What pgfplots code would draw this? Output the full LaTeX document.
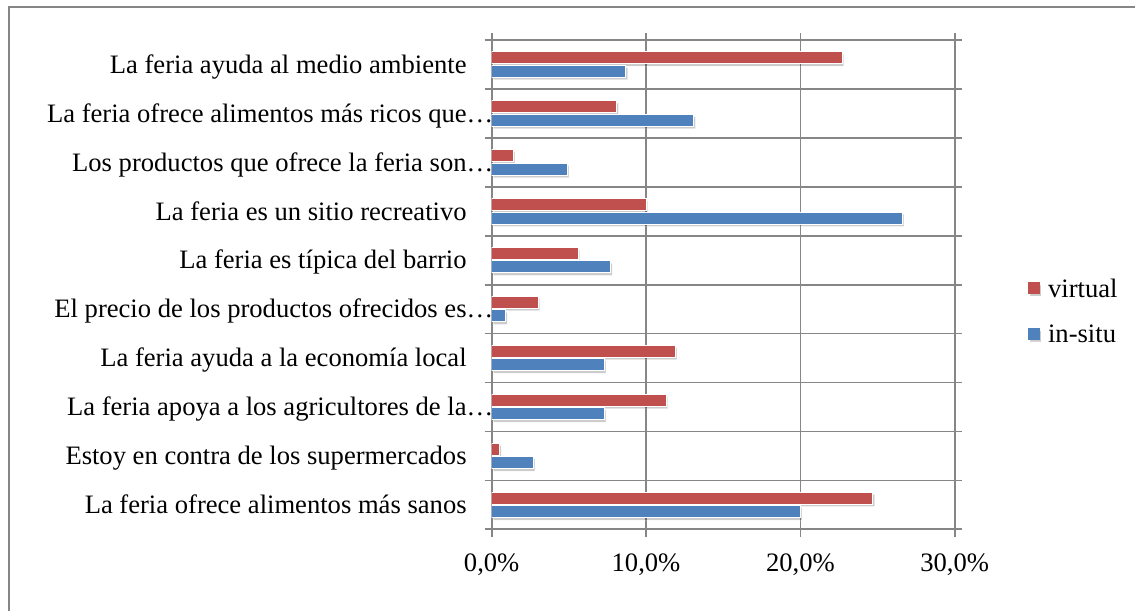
\documentclass[border=0pt]{standalone}
\usepackage{fontspec}
\setmainfont{Liberation Serif}
\usepackage{pgfplots}
\pgfplotsset{compat=1.18}
\usetikzlibrary{shadows}
\definecolor{redbar}{RGB}{192,80,77}
\definecolor{bluebar}{RGB}{79,129,189}
\definecolor{gridgray}{RGB}{134,134,134}
\newcommand{\ellip}{\rlap{…}}
\begin{document}
\fontsize{13.3pt}{16pt}\selectfont
\begin{tikzpicture}
\path[use as bounding box] (0,0) rectangle (567.5pt,305.5pt);
\draw[gridgray, line width=1pt] (4.25pt,0pt) -- (4.25pt,301.75pt) -- (567.5pt,301.75pt);
\begin{axis}[
  at={(245.85pt,40.85pt)}, anchor=south west,
  scale only axis, width=231.5pt, height=244.65pt,
  xmin=0, xmax=30, ymin=-0.5, ymax=9.5,
  xbar, bar width=6pt,
  axis line style={gridgray, line width=0.85pt},
  grid style={gridgray, line width=0.85pt},
  xtick={0,10,20,30},
  xticklabels={{0,0\%},{10,0\%},{20,0\%},{30,0\%}},
  xmajorgrids, ymajorgrids,
  ytick={-0.5,0.5,1.5,2.5,3.5,4.5,5.5,6.5,7.5,8.5,9.5},
  yticklabels={},
  extra y ticks={0,1,2,3,4,5,6,7,8,9},
  extra y tick labels={
    La feria ofrece alimentos más sanos,
    Estoy en contra de los supermercados,
    La feria apoya a los agricultores de la\ellip,
    La feria ayuda a la economía local,
    El precio de los productos ofrecidos es\ellip,
    La feria es típica del barrio,
    La feria es un sitio recreativo,
    Los productos que ofrece la feria son\ellip,
    La feria ofrece alimentos más ricos que\ellip,
    La feria ayuda al medio ambiente},
  extra y tick style={major tick length=0pt, ymajorgrids=false},
  tick align=outside, major tick length=3.6pt,
  tick style={gridgray, line width=0.85pt},
  xticklabel style={anchor=north, inner sep=0pt, text height=9pt, text depth=0pt, yshift=-8.25pt},
  yticklabel style={anchor=east, inner sep=0pt, text height=8.8pt, text depth=0pt, xshift=-12.35pt},
  legend style={at={(1.1583,0.5111)}, anchor=north west, draw=none, fill=none,
    inner sep=0pt, row sep=13.95pt, column sep=3.85pt,
    nodes={inner sep=0pt, text height=8.8pt, text depth=0pt}},
  legend cell align=left,
]
\addplot[fill=redbar, draw=white, line width=0.5pt, bar shift=3.4pt,
  drop shadow={shadow xshift=0.8pt, shadow yshift=-1.2pt, opacity=0.2, fill=black},
  legend image code/.code={\fill[redbar] (0pt,-2.75pt) rectangle (5.5pt,2.75pt);}]
  coordinates {(24.7,0) (0.5,1) (11.3,2) (11.9,3) (3.0,4) (5.6,5) (10.0,6) (1.4,7) (8.1,8) (22.7,9)};
\addlegendentry{virtual}
\addplot[fill=bluebar, draw=white, line width=0.5pt, bar shift=-3.4pt,
  drop shadow={shadow xshift=0.8pt, shadow yshift=-1.2pt, opacity=0.2, fill=black},
  legend image code/.code={\fill[bluebar] (0pt,-2.75pt) rectangle (5.5pt,2.75pt);}]
  coordinates {(20.0,0) (2.7,1) (7.3,2) (7.3,3) (0.9,4) (7.7,5) (26.6,6) (4.9,7) (13.1,8) (8.7,9)};
\addlegendentry{in-situ}
\end{axis}
\end{tikzpicture}
\end{document}
